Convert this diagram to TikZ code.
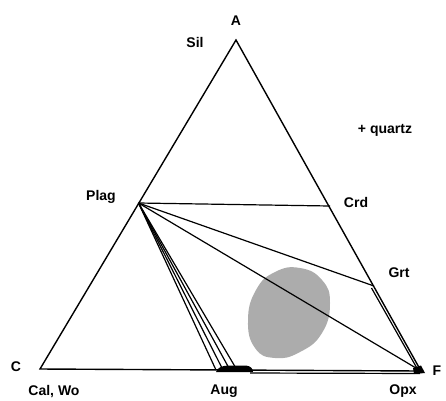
\documentclass[tikz,border=0pt]{standalone}
\usepackage{fontspec}
\setmainfont{Liberation Sans}
\begin{document}
\begin{tikzpicture}[x=1pt,y=-1pt,
  lbl/.style={inner sep=0pt,font=\fontsize{14}{16}\selectfont\bfseries},
  edge/.style={line width=1.4pt,black},
  tie/.style={line width=1.2pt,black}]
\useasboundingbox (0,0) rectangle (446,400);
% vertices
\coordinate (A) at (236,40);
\coordinate (C) at (40,369);
\coordinate (F) at (421,371);
\coordinate (Plag) at (138.5,203);
\coordinate (Crd) at (330,206);
\coordinate (Grt) at (374,286);
\coordinate (Aug1) at (216,370);
\coordinate (Aug2) at (223,370);
\coordinate (Aug3) at (230,370);
\coordinate (Aug4) at (237,370);
\coordinate (Grtb) at (371.5,288);
\coordinate (Fb) at (418,370);
\coordinate (Augb) at (250,373);
\coordinate (Fc) at (420,373.5);
% grey field
\fill[gray!65] plot[smooth cycle, tension=0.8] coordinates
  {(300,268) (322,280) (330,303) (322,333) (300,352) (275,358) (255,348) (248,320) (256,290) (275,272)};
% triangle
\draw[edge,line join=miter] (A) -- (C) -- (F) -- cycle;
% tie lines
\draw[tie] (Plag) -- (Crd);
\draw[tie] (Plag) -- (Grt);
\draw[tie] (Plag) -- (F);
\draw[tie] (Plag) -- (Aug1);
\draw[tie] (Plag) -- (Aug2);
\draw[tie] (Plag) -- (Aug3);
\draw[tie] (Plag) -- (Aug4);
\draw[tie] (Grtb) -- (Fb);
\draw[tie] (Augb) -- (Fc);
% solid solutions
\fill[black] (216,372) .. controls (218,367) and (222,366) .. (228,365.5) -- (246,365.5) .. controls (251,366) and (253,369) .. (253,372) -- cycle;
\fill[black] (413,368) -- (421,365.5) -- (425,373) -- (414,374) -- cycle;
% labels
\node[lbl] (lA) at (236,21) {A};
\node[lbl] (lSil) at (195,42) {Sil};
\node[lbl] (lq) at (385,130) {+ quartz};
\node[lbl] (lPlag) at (101,197) {Plag};
\node[lbl] (lCrd) at (356,202) {Crd};
\node[lbl] (lGrt) at (399,273) {Grt};
\node[lbl] (lC) at (16,367) {C};
\node[lbl] (lCal) at (54,391) {Cal, Wo};
\node[lbl] (lAug) at (224,391) {Aug};
\node[lbl] (lOpx) at (403,391) {Opx};
\node[lbl] (lF) at (437,371) {F};
\end{tikzpicture}
\end{document}
